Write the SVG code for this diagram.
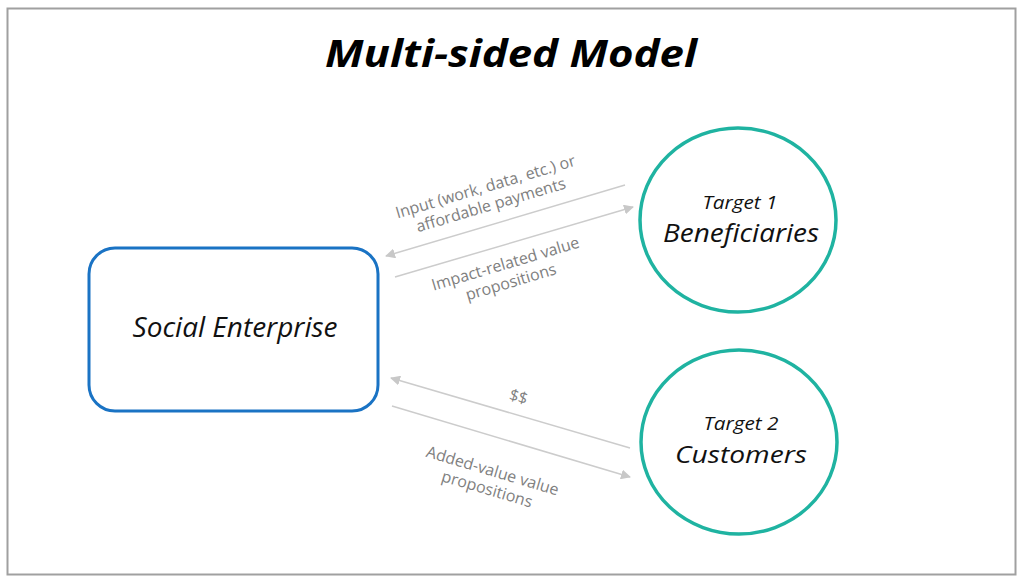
<svg xmlns="http://www.w3.org/2000/svg" width="1024" height="584" viewBox="0 0 1024 584">
<style>
.frame{fill:#fff;stroke:#a0a0a0;stroke-width:2}
.title{font-family:"Open Sans","Liberation Sans",sans-serif;font-weight:bold;font-style:italic;font-size:37px;fill:#000;text-anchor:middle}
.node{font-family:"Open Sans","Liberation Sans",sans-serif;font-style:italic;fill:#111;text-anchor:middle}
.lbl{font-family:"Open Sans","Liberation Sans",sans-serif;font-size:16px;fill:#808080;text-anchor:middle}
.conn{stroke:#cccccc;stroke-width:1.5;fill:none;marker-end:url(#ah)}
.circ{fill:#fff;stroke:#1fb3a1;stroke-width:3.5}
</style>
<defs>
<marker id="ah" viewBox="0 0 10 10" refX="9" refY="5" markerWidth="10" markerHeight="10" markerUnits="userSpaceOnUse" orient="auto">
<path d="M0,0 L10,5 L0,10 z" fill="#c8c8c8"/>
</marker>
</defs>
<rect class="frame" x="7.5" y="8.5" width="1008" height="566"/>
<text class="title" x="511" y="67" textLength="372" lengthAdjust="spacingAndGlyphs">Multi-sided Model</text>
<g id="connectors">
<line class="conn" x1="625" y1="185" x2="386" y2="256"/>
<line class="conn" x1="395" y1="277" x2="633" y2="207"/>
<line class="conn" x1="630" y1="448" x2="391" y2="378"/>
<line class="conn" x1="392" y1="406" x2="630" y2="477"/>
<g transform="translate(487,192) rotate(-16.5)">
<text class="lbl" x="0" y="0">Input (work, data, etc.) or</text>
<text class="lbl" x="0" y="19">affordable payments</text>
</g>
<g transform="translate(507,269) rotate(-16.5)">
<text class="lbl" x="0" y="0">Impact-related value</text>
<text class="lbl" x="0" y="19">propositions</text>
</g>
<text class="lbl" transform="translate(517,402) rotate(16.5)">$$</text>
<g transform="translate(491,476) rotate(16.5)">
<text class="lbl" x="0" y="0">Added-value value</text>
<text class="lbl" x="0" y="19">propositions</text>
</g>
</g>
<g id="social-enterprise">
<rect x="89" y="248" width="289" height="163" rx="26" fill="#fff" stroke="#1a73c4" stroke-width="3"/>
<text class="node" x="235" y="337" font-size="28">Social Enterprise</text>
</g>
<g id="target1">
<ellipse class="circ" cx="738" cy="220" rx="98" ry="92"/>
<text class="node" x="740" y="209" font-size="19" textLength="75" lengthAdjust="spacingAndGlyphs">Target 1</text>
<text class="node" x="741" y="242" font-size="25" textLength="156" lengthAdjust="spacingAndGlyphs">Beneficiaries</text>
</g>
<g id="target2">
<ellipse class="circ" cx="739" cy="442" rx="98" ry="92"/>
<text class="node" x="741" y="430" font-size="19" textLength="75" lengthAdjust="spacingAndGlyphs">Target 2</text>
<text class="node" x="741" y="463" font-size="24" textLength="132" lengthAdjust="spacingAndGlyphs">Customers</text>
</g>
</svg>
